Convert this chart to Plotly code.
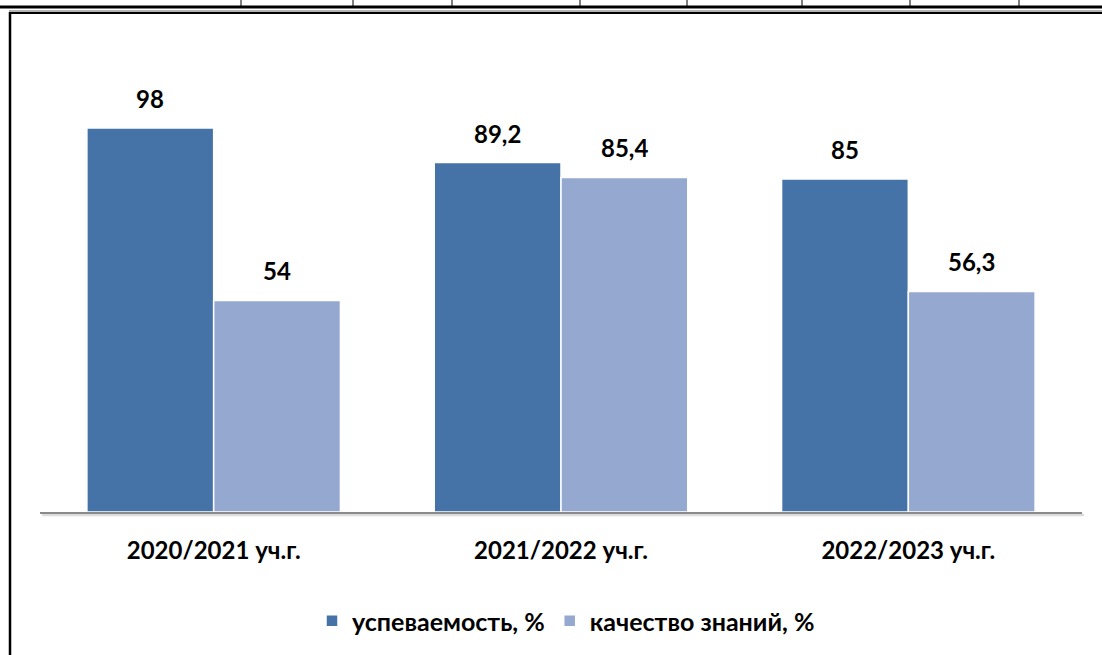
import plotly.graph_objects as go

categories = ["2020/2021 уч.г.", "2021/2022 уч.г.", "2022/2023 уч.г."]
series_names = ["успеваемость, %", "качество знаний, %"]
uspev = [98, 89.2, 85]
kachestvo = [54, 85.4, 56.3]

W, H = 1102, 655
L, R, T, B = 40, 20, 81, 143
PW, PH = W - L - R, H - T - B

def px(x):
    return (x - L) / PW

def py(y):
    return (H - B - y) / PH

FONT = "Lato"
DARK = "#4673A7"
LIGHT = "#95A9D0"
BARGAP = 0.27

def fmt(v):
    return ("%g" % v).replace(".", ",")

fig = go.Figure()
for name, vals, col in [(series_names[0], uspev, DARK), (series_names[1], kachestvo, LIGHT)]:
    fig.add_trace(go.Bar(
        name=name, x=categories, y=vals,
        marker=dict(color=col, line=dict(color="white", width=1.5)),
    ))

# value labels above the bars
catw = PW / len(categories)
offset = (1 - BARGAP) * catw / 4
annotations = []
for sign, vals in [(-1, uspev), (1, kachestvo)]:
    for c, v in zip(categories, vals):
        annotations.append(dict(x=c, y=v, xref="x", yref="y", text=fmt(v), showarrow=False,
                                xshift=sign * offset, yanchor="bottom", yshift=13,
                                font=dict(family=FONT, size=24, color="black", weight="bold")))

shapes = []
# table remnant at top
shapes.append(dict(type="line", xref="paper", yref="paper", x0=px(0), x1=px(W), y0=py(7), y1=py(7),
                   line=dict(color="black", width=3)))
for xv in [241, 353, 452, 580, 687, 802, 910, 1019]:
    shapes.append(dict(type="line", xref="paper", yref="paper", x0=px(xv), x1=px(xv), y0=py(0), y1=py(7),
                       line=dict(color="black", width=1)))
# chart frame
shapes.append(dict(type="line", xref="paper", yref="paper", x0=px(9), x1=px(W), y0=py(11), y1=py(11),
                   line=dict(color="#9a9a9a", width=1.5)))
shapes.append(dict(type="line", xref="paper", yref="paper", x0=px(9.5), x1=px(W), y0=py(13), y1=py(13),
                   line=dict(color="black", width=2)))
shapes.append(dict(type="line", xref="paper", yref="paper", x0=px(10), x1=px(10), y0=py(12), y1=py(H + 5),
                   line=dict(color="black", width=2.5)))
# axis shadow
shapes.append(dict(type="line", xref="paper", yref="paper", x0=px(42), x1=px(1084), y0=py(515), y1=py(515),
                   line=dict(color="#dcdcdc", width=2.5), layer="below"))

fig.update_layout(
    width=W, height=H,
    margin=dict(l=L, r=R, t=T, b=B, autoexpand=False),
    paper_bgcolor="white", plot_bgcolor="white",
    barmode="group", bargap=BARGAP, bargroupgap=0.0,
    font=dict(family=FONT, size=24, color="black"),
    xaxis=dict(showline=True, linecolor="#8a8a8a", linewidth=1.5, ticks="",
               tickfont=dict(family=FONT, size=24, color="black", weight="bold"),
               ticklabelstandoff=16, showgrid=False),
    yaxis=dict(range=[0, 110], visible=False, showgrid=False),
    legend=dict(orientation="h", x=px(566), xanchor="center", y=py(621), yanchor="middle",
                font=dict(family=FONT, size=25, color="black", weight="bold"),
                bgcolor="rgba(0,0,0,0)"),
    shapes=shapes,
    annotations=annotations,
)
fig.write_html("out.html", config={"displayModeBar": False},
               post_script="document.body.style.margin='0';")
